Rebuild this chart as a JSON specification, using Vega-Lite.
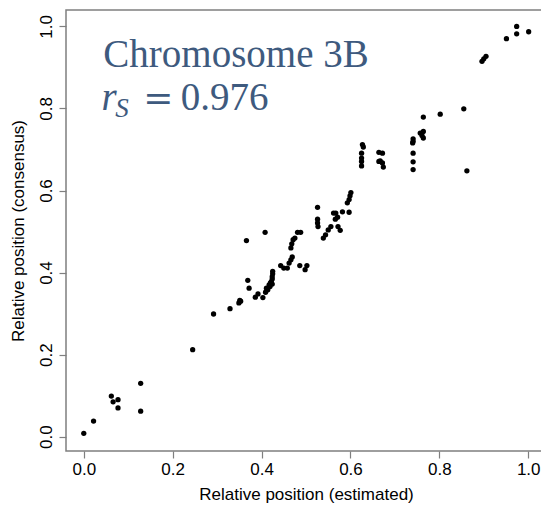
{
  "$schema": "https://vega.github.io/schema/vega-lite/v6.json",
  "autosize": "none",
  "padding": {"left": 66, "top": 10, "right": 0, "bottom": 55},
  "width": 480,
  "height": 441,
  "config": {
    "view": {"stroke": "#7f7f7f", "strokeWidth": 1.5},
    "font": "Liberation Sans"
  },
  "datasets": {
    "pts": [
      {"est": 0.0, "cons": 0.008},
      {"est": 0.022, "cons": 0.038},
      {"est": 0.062, "cons": 0.099},
      {"est": 0.066, "cons": 0.085},
      {"est": 0.077, "cons": 0.090},
      {"est": 0.077, "cons": 0.070},
      {"est": 0.128, "cons": 0.130},
      {"est": 0.128, "cons": 0.062},
      {"est": 0.245, "cons": 0.212},
      {"est": 0.292, "cons": 0.299},
      {"est": 0.329, "cons": 0.312},
      {"est": 0.349, "cons": 0.326},
      {"est": 0.351, "cons": 0.332},
      {"est": 0.353, "cons": 0.330},
      {"est": 0.366, "cons": 0.478},
      {"est": 0.369, "cons": 0.381},
      {"est": 0.372, "cons": 0.362},
      {"est": 0.386, "cons": 0.340},
      {"est": 0.392, "cons": 0.348},
      {"est": 0.403, "cons": 0.339},
      {"est": 0.408, "cons": 0.498},
      {"est": 0.409, "cons": 0.352},
      {"est": 0.411, "cons": 0.362},
      {"est": 0.414, "cons": 0.358},
      {"est": 0.417, "cons": 0.370},
      {"est": 0.419, "cons": 0.366},
      {"est": 0.420, "cons": 0.375},
      {"est": 0.422, "cons": 0.378},
      {"est": 0.424, "cons": 0.372},
      {"est": 0.424, "cons": 0.384},
      {"est": 0.424, "cons": 0.390},
      {"est": 0.425, "cons": 0.397},
      {"est": 0.425, "cons": 0.403},
      {"est": 0.443, "cons": 0.417},
      {"est": 0.450, "cons": 0.411},
      {"est": 0.458, "cons": 0.411},
      {"est": 0.462, "cons": 0.423},
      {"est": 0.466, "cons": 0.431},
      {"est": 0.469, "cons": 0.438},
      {"est": 0.486, "cons": 0.417},
      {"est": 0.498, "cons": 0.407},
      {"est": 0.502, "cons": 0.417},
      {"est": 0.466, "cons": 0.460},
      {"est": 0.468, "cons": 0.470},
      {"est": 0.471, "cons": 0.480},
      {"est": 0.475, "cons": 0.484},
      {"est": 0.481, "cons": 0.498},
      {"est": 0.488, "cons": 0.498},
      {"est": 0.526, "cons": 0.559},
      {"est": 0.526, "cons": 0.530},
      {"est": 0.526, "cons": 0.521},
      {"est": 0.527, "cons": 0.512},
      {"est": 0.539, "cons": 0.484},
      {"est": 0.544, "cons": 0.492},
      {"est": 0.550, "cons": 0.504},
      {"est": 0.556, "cons": 0.512},
      {"est": 0.562, "cons": 0.545},
      {"est": 0.567, "cons": 0.545},
      {"est": 0.571, "cons": 0.535},
      {"est": 0.566, "cons": 0.530},
      {"est": 0.572, "cons": 0.512},
      {"est": 0.577, "cons": 0.503},
      {"est": 0.582, "cons": 0.548},
      {"est": 0.597, "cons": 0.547},
      {"est": 0.593, "cons": 0.570},
      {"est": 0.597, "cons": 0.578},
      {"est": 0.599, "cons": 0.587},
      {"est": 0.601, "cons": 0.595},
      {"est": 0.627, "cons": 0.712},
      {"est": 0.629, "cons": 0.706},
      {"est": 0.625, "cons": 0.691},
      {"est": 0.625, "cons": 0.679},
      {"est": 0.625, "cons": 0.671},
      {"est": 0.625, "cons": 0.660},
      {"est": 0.664, "cons": 0.693},
      {"est": 0.672, "cons": 0.691},
      {"est": 0.664, "cons": 0.671},
      {"est": 0.667, "cons": 0.672},
      {"est": 0.672, "cons": 0.667},
      {"est": 0.674, "cons": 0.657},
      {"est": 0.741, "cons": 0.726},
      {"est": 0.741, "cons": 0.720},
      {"est": 0.740, "cons": 0.716},
      {"est": 0.741, "cons": 0.691},
      {"est": 0.741, "cons": 0.670},
      {"est": 0.741, "cons": 0.651},
      {"est": 0.757, "cons": 0.740},
      {"est": 0.764, "cons": 0.744},
      {"est": 0.764, "cons": 0.728},
      {"est": 0.761, "cons": 0.734},
      {"est": 0.764, "cons": 0.779},
      {"est": 0.802, "cons": 0.786},
      {"est": 0.855, "cons": 0.799},
      {"est": 0.862, "cons": 0.648},
      {"est": 0.896, "cons": 0.915},
      {"est": 0.900, "cons": 0.921},
      {"est": 0.905, "cons": 0.927},
      {"est": 0.951, "cons": 0.970},
      {"est": 0.974, "cons": 1.000},
      {"est": 0.974, "cons": 0.982},
      {"est": 1.001, "cons": 0.987}
    ],
    "big": [
      {"t": "Chromosome 3B", "x": 0.044, "y": 0.902},
      {"t": "0.976", "x": 0.218, "y": 0.797}
    ],
    "eq": [{"t": "=", "x": 0.134, "y": 0.797}],
    "r": [{"t": "r", "x": 0.040, "y": 0.797}],
    "s": [{"t": "S", "x": 0.071, "y": 0.778}]
  },
  "layer": [
    {
      "data": {"name": "pts"},
      "mark": {"type": "circle", "color": "black", "opacity": 1, "size": 28},
      "encoding": {
        "x": {
          "field": "est", "type": "quantitative",
          "scale": {"domain": [-0.04, 1.04], "nice": false, "zero": false},
          "axis": {
            "title": "Relative position (estimated)",
            "values": [0, 0.2, 0.4, 0.6, 0.8, 1.0],
            "format": ".1f",
            "grid": false, "domain": false,
            "tickSize": 7, "tickColor": "#7f7f7f", "tickWidth": 1.2,
            "labelFontSize": 17, "labelColor": "black", "labelPadding": 3,
            "titleFontSize": 17, "titleFontWeight": "normal", "titleColor": "black", "titlePadding": 9,
            "labelFlush": false
          }
        },
        "y": {
          "field": "cons", "type": "quantitative",
          "scale": {"domain": [-0.035, 1.04], "nice": false, "zero": false},
          "axis": {
            "title": "Relative position (consensus)",
            "values": [0, 0.2, 0.4, 0.6, 0.8, 1.0],
            "format": ".1f",
            "grid": false, "domain": false,
            "tickSize": 7, "tickColor": "#7f7f7f", "tickWidth": 1.2,
            "labelAngle": -90, "labelAlign": "center", "labelBaseline": "bottom",
            "labelFontSize": 17, "labelColor": "black", "labelPadding": 4,
            "titleFontSize": 17, "titleFontWeight": "normal", "titleColor": "black", "titlePadding": 10,
            "labelFlush": false
          }
        }
      }
    },
    {
      "data": {"name": "big"},
      "mark": {"type": "text", "font": "Liberation Serif", "fontSize": 39, "color": "#3E5A7E", "align": "left", "baseline": "alphabetic"},
      "encoding": {
        "x": {"field": "x", "type": "quantitative"},
        "y": {"field": "y", "type": "quantitative"},
        "text": {"field": "t"}
      }
    },
    {
      "data": {"name": "eq"},
      "mark": {"type": "text", "font": "DejaVu Serif", "fontSize": 36, "color": "#3E5A7E", "align": "left", "baseline": "alphabetic"},
      "encoding": {
        "x": {"field": "x", "type": "quantitative"},
        "y": {"field": "y", "type": "quantitative"},
        "text": {"field": "t"}
      }
    },
    {
      "data": {"name": "r"},
      "mark": {"type": "text", "font": "Liberation Serif", "fontStyle": "italic", "fontSize": 39, "color": "#3E5A7E", "align": "left", "baseline": "alphabetic"},
      "encoding": {
        "x": {"field": "x", "type": "quantitative"},
        "y": {"field": "y", "type": "quantitative"},
        "text": {"field": "t"}
      }
    },
    {
      "data": {"name": "s"},
      "mark": {"type": "text", "font": "Liberation Serif", "fontStyle": "italic", "fontSize": 27, "color": "#3E5A7E", "align": "left", "baseline": "alphabetic"},
      "encoding": {
        "x": {"field": "x", "type": "quantitative"},
        "y": {"field": "y", "type": "quantitative"},
        "text": {"field": "t"}
      }
    }
  ]
}
